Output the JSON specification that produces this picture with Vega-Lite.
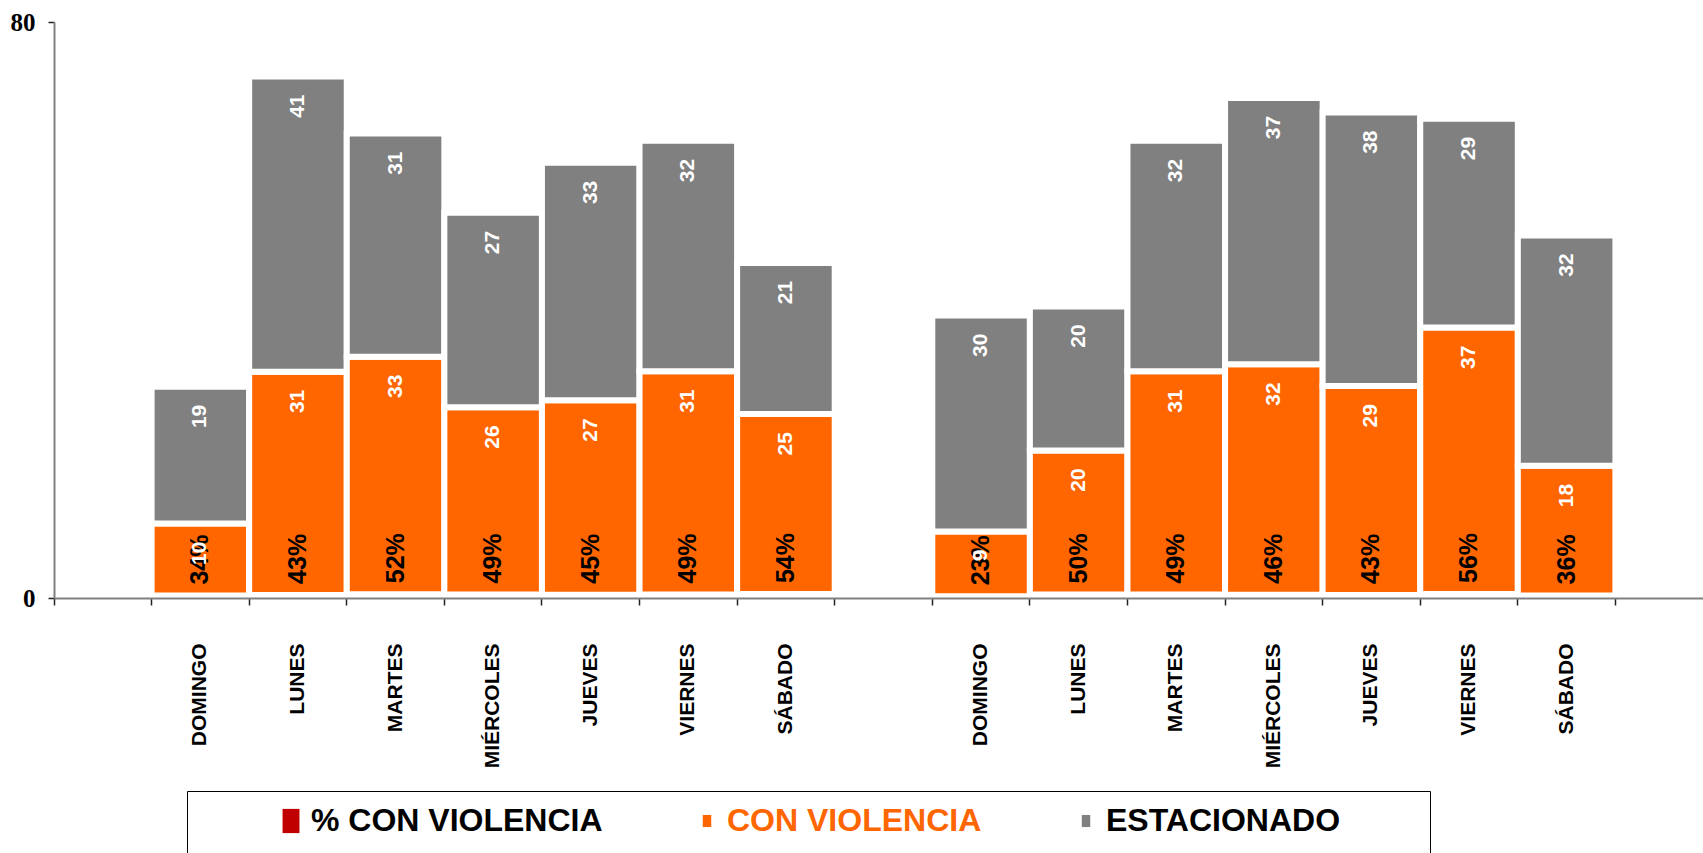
{
  "$schema": "https://vega.github.io/schema/vega-lite/v6.json",
  "width": 1659,
  "height": 576,
  "autosize": {"type": "none"},
  "padding": {"left": 54, "top": 22, "right": 0, "bottom": 255},
  "background": "white",
  "config": {"view": {"stroke": null}, "font": "Liberation Sans", "legend": {"symbolSize": 484}},
  "data": {
    "values": [
      {"key": "A|DOMINGO", "serie": "% CON VIOLENCIA", "value": 0.34},
      {"key": "A|DOMINGO", "serie": "CON VIOLENCIA", "value": 10},
      {"key": "A|DOMINGO", "serie": "ESTACIONADO", "value": 19},
      {"key": "A|LUNES", "serie": "% CON VIOLENCIA", "value": 0.43},
      {"key": "A|LUNES", "serie": "CON VIOLENCIA", "value": 31},
      {"key": "A|LUNES", "serie": "ESTACIONADO", "value": 41},
      {"key": "A|MARTES", "serie": "% CON VIOLENCIA", "value": 0.52},
      {"key": "A|MARTES", "serie": "CON VIOLENCIA", "value": 33},
      {"key": "A|MARTES", "serie": "ESTACIONADO", "value": 31},
      {"key": "A|MIÉRCOLES", "serie": "% CON VIOLENCIA", "value": 0.49},
      {"key": "A|MIÉRCOLES", "serie": "CON VIOLENCIA", "value": 26},
      {"key": "A|MIÉRCOLES", "serie": "ESTACIONADO", "value": 27},
      {"key": "A|JUEVES", "serie": "% CON VIOLENCIA", "value": 0.45},
      {"key": "A|JUEVES", "serie": "CON VIOLENCIA", "value": 27},
      {"key": "A|JUEVES", "serie": "ESTACIONADO", "value": 33},
      {"key": "A|VIERNES", "serie": "% CON VIOLENCIA", "value": 0.49},
      {"key": "A|VIERNES", "serie": "CON VIOLENCIA", "value": 31},
      {"key": "A|VIERNES", "serie": "ESTACIONADO", "value": 32},
      {"key": "A|SÁBADO", "serie": "% CON VIOLENCIA", "value": 0.54},
      {"key": "A|SÁBADO", "serie": "CON VIOLENCIA", "value": 25},
      {"key": "A|SÁBADO", "serie": "ESTACIONADO", "value": 21},
      {"key": "B|DOMINGO", "serie": "% CON VIOLENCIA", "value": 0.23},
      {"key": "B|DOMINGO", "serie": "CON VIOLENCIA", "value": 9},
      {"key": "B|DOMINGO", "serie": "ESTACIONADO", "value": 30},
      {"key": "B|LUNES", "serie": "% CON VIOLENCIA", "value": 0.50},
      {"key": "B|LUNES", "serie": "CON VIOLENCIA", "value": 20},
      {"key": "B|LUNES", "serie": "ESTACIONADO", "value": 20},
      {"key": "B|MARTES", "serie": "% CON VIOLENCIA", "value": 0.49},
      {"key": "B|MARTES", "serie": "CON VIOLENCIA", "value": 31},
      {"key": "B|MARTES", "serie": "ESTACIONADO", "value": 32},
      {"key": "B|MIÉRCOLES", "serie": "% CON VIOLENCIA", "value": 0.46},
      {"key": "B|MIÉRCOLES", "serie": "CON VIOLENCIA", "value": 32},
      {"key": "B|MIÉRCOLES", "serie": "ESTACIONADO", "value": 37},
      {"key": "B|JUEVES", "serie": "% CON VIOLENCIA", "value": 0.43},
      {"key": "B|JUEVES", "serie": "CON VIOLENCIA", "value": 29},
      {"key": "B|JUEVES", "serie": "ESTACIONADO", "value": 38},
      {"key": "B|VIERNES", "serie": "% CON VIOLENCIA", "value": 0.56},
      {"key": "B|VIERNES", "serie": "CON VIOLENCIA", "value": 37},
      {"key": "B|VIERNES", "serie": "ESTACIONADO", "value": 29},
      {"key": "B|SÁBADO", "serie": "% CON VIOLENCIA", "value": 0.36},
      {"key": "B|SÁBADO", "serie": "CON VIOLENCIA", "value": 18},
      {"key": "B|SÁBADO", "serie": "ESTACIONADO", "value": 32}
    ]
  },
  "encoding": {
    "x": {
      "field": "key",
      "type": "nominal",
      "sort": null,
      "scale": {
        "domain": ["E0", "A|DOMINGO", "A|LUNES", "A|MARTES", "A|MIÉRCOLES", "A|JUEVES", "A|VIERNES", "A|SÁBADO", "E8", "B|DOMINGO", "B|LUNES", "B|MARTES", "B|MIÉRCOLES", "B|JUEVES", "B|VIERNES", "B|SÁBADO", "E16"],
        "paddingInner": 0,
        "paddingOuter": 0
      },
      "axis": {
        "title": null,
        "labelExpr": "indexof(datum.value, '|') >= 0 ? split(datum.value, '|')[1] : ''",
        "labelAngle": -90,
        "labelAlign": "right",
        "labelBaseline": "middle",
        "labelFont": "Liberation Sans",
        "labelFontSize": 21,
        "labelFontWeight": "bold",
        "labelColor": "black",
        "labelPadding": 38,
        "labelOverlap": false,
        "labelBound": false,
        "bandPosition": 0,
        "tickSize": 7,
        "tickColor": "#222222",
        "tickWidth": 1.5,
        "domainColor": "#808080",
        "domainWidth": 2,
        "grid": false,
        "zindex": 1
      }
    },
    "y": {
      "field": "value",
      "type": "quantitative",
      "stack": "zero",
      "scale": {"domain": [0, 80], "nice": false, "zero": true},
      "axis": {
        "title": null,
        "values": [0, 80],
        "labelFont": "Liberation Serif",
        "labelFontSize": 25,
        "labelFontWeight": "bold",
        "labelColor": "black",
        "labelPadding": 13,
        "labelFlush": false,
        "tickSize": 6,
        "tickColor": "#222222",
        "tickWidth": 1.5,
        "domainColor": "#808080",
        "domainWidth": 2,
        "grid": false,
        "zindex": 1
      }
    },
    "order": {"field": "serie", "sort": "ascending"}
  },
  "layer": [
    {
      "mark": {"type": "bar", "stroke": "white", "strokeWidth": 6},
      "encoding": {
        "color": {
          "field": "serie",
          "type": "nominal",
          "scale": {
            "domain": ["% CON VIOLENCIA", "CON VIOLENCIA", "ESTACIONADO"],
            "range": ["#C00000", "#FF6600", "#808080"]
          },
          "legend": {
            "orient": "none",
            "legendX": 133,
            "legendY": 769,
            "direction": "horizontal",
            "columns": 3,
            "title": "\u00a0",
            "titleOrient": "left",
            "titlePadding": 74,
            "titleFontSize": 80,
            "titleBaseline": "top",
            "titleAnchor": "start",
            "padding": 14,
            "strokeColor": "black",
            "fillColor": "white",
            "symbolType": {"expr": "datum.value == '% CON VIOLENCIA' ? 'M-0.77,-1.1H0.77V1.1H-0.77Z' : 'M-0.385,-0.55H0.385V0.55H-0.385Z'"},
            "symbolSize": 484,
            "symbolStrokeWidth": 0,
            "symbolOpacity": 1,
            "labelFont": "Liberation Sans, DejaVu Sans",
            "labelFontSize": 32,
            "labelFontWeight": "bold",
            "labelColor": {"expr": "datum.value == 'CON VIOLENCIA' ? '#FF6600' : '#000000'"},
            "labelLimit": 2000,
            "labelOffset": 4,
            "columnPadding": 88,
            "labelExpr": "datum.value == 'ESTACIONADO' ? datum.label + '\u2800\u2800\u2800' : datum.label"
          }
        }
      }
    },
    {
      "transform": [{"filter": "datum.serie == '% CON VIOLENCIA'"}],
      "mark": {"type": "text", "angle": 270, "align": "left", "baseline": "middle", "dx": 11, "fontSize": 25, "fontWeight": "bold", "fill": "black", "font": "Liberation Sans"},
      "encoding": {
        "text": {"field": "value", "type": "quantitative", "format": ".0%"}
      }
    },
    {
      "mark": {"type": "text", "angle": 270, "align": "right", "baseline": "middle", "dx": -18, "fontSize": 21, "fontWeight": "bold", "fill": "white", "font": "Liberation Sans"},
      "encoding": {
        "detail": {"field": "serie"},
        "text": {
          "condition": {"test": "datum.serie != '% CON VIOLENCIA'", "field": "value", "type": "quantitative"},
          "value": ""
        }
      }
    }
  ]
}
